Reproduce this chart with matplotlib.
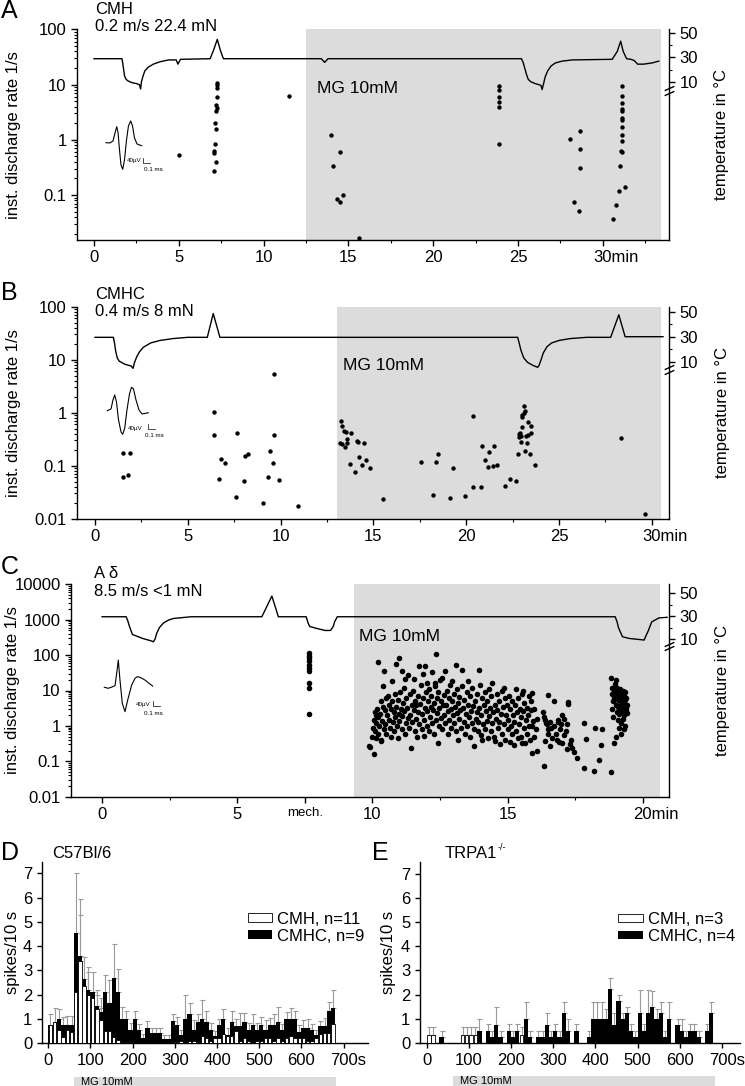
import numpy as np
import matplotlib
matplotlib.use("Agg")
import matplotlib.pyplot as plt
from matplotlib.patches import Patch, Rectangle
from matplotlib.ticker import (LogLocator, FixedLocator, FuncFormatter,
                               NullFormatter)
from matplotlib.transforms import ScaledTranslation, blended_transform_factory

plt.rcParams["font.family"] = ["Liberation Sans", "DejaVu Sans"]
plt.rcParams["font.size"] = 12
plt.rcParams["axes.linewidth"] = 1.0

W, H = 745, 1086
GREY = "#dcdcdc"

# ---------------- panel A (CMH) ----------------
A_rate_t = [5.0,
            7.25, 7.25, 7.25, 7.25, 7.2, 7.25, 7.2, 7.15, 7.2, 7.15, 7.1, 7.05, 7.2, 7.05,
            11.5,
            14.0, 14.5, 14.1, 14.3, 14.5, 14.7, 15.6,
            23.9, 23.9, 23.9, 23.9, 23.9, 23.9,
            28.07, 28.68, 28.68, 28.68, 28.3, 28.6,
            30.6, 30.8, 30.95, 31.3,
            31.1, 31.1, 31.1, 31.1, 31.1, 31.1, 31.1, 31.1, 31.1, 31.1, 31.05, 31.1, 31.0]
A_rate_v = [0.52,
            10.8, 9.8, 8.5, 5.9, 4.2, 3.8, 3.3, 2.0, 1.56, 0.84, 0.62, 0.57, 0.40, 0.27,
            6.3,
            1.23, 0.6, 0.34, 0.083, 0.075, 0.099, 0.0165,
            9.3, 8.0, 6.0, 4.8, 4.0, 0.85,
            1.05, 1.46, 0.69, 0.31, 0.074, 0.051,
            0.036, 0.066, 0.12, 0.14,
            9.5, 6.3, 4.6, 3.55, 3.35, 2.5, 2.28, 1.67, 1.21, 0.96, 0.63, 0.59, 0.34]
A_temp_t = [0, 1.65, 1.7, 1.75, 1.8, 1.87, 1.97, 2.1, 2.3, 2.5, 2.68, 2.75, 2.8, 2.9,
            3.0, 3.2, 3.5, 3.9, 4.4, 4.85, 4.95, 5.1, 6.85, 7.05, 7.27, 7.45, 7.63,
            13.4, 13.6, 13.8,
            25.2, 25.3, 25.4, 25.5, 25.6, 25.75, 26.0, 26.35, 26.42, 26.5, 26.6, 26.75,
            26.95, 27.2, 27.6, 28.2,
            30.55, 30.85, 31.05, 31.2, 31.4, 31.65, 31.85, 32.05, 32.4, 32.9, 33.3]
A_temp_c = [29, 29, 25, 20, 15, 12.5, 11, 10, 9, 8.5, 7.5, 4, 10, 15,
            19, 22, 24.5, 26.5, 28, 28, 24.5, 28.5, 29, 36, 45, 36, 29,
            29, 26, 29,
            29, 26, 21, 16, 12, 10, 8.5, 7, 3.5, 8, 14, 19,
            23, 25.5, 27, 28,
            28.5, 35, 43.5, 35, 29, 28.5, 27.5, 24.5, 24.5, 25.5, 27]

# ---------------- panel B (CMHC) ----------------
B_rate_t = [1.51, 1.8, 1.51, 1.87, 6.41, 6.39, 6.79, 6.99, 6.70, 7.67, 7.62, 8.01, 8.10,
            8.23, 9.05, 9.34, 9.43, 9.57, 9.63, 9.63, 9.93, 10.94,
            13.24, 13.32, 13.4, 13.52, 13.8, 13.6, 13.56, 13.18, 13.31, 13.47, 14.1,
            14.19, 14.47, 14.24, 13.76, 14.4, 14.62, 14.02, 14.8,
            15.52, 17.58, 18.2, 18.35, 18.46, 19.1, 19.3, 19.95, 20.35, 20.37, 20.8,
            20.87, 21.01, 21.24, 21.17, 21.43, 21.51, 21.67, 22.09, 22.38, 22.7,
            22.8, 22.82, 22.84, 22.88, 22.93, 22.95, 22.99, 22.99, 23.03, 23.1, 23.1,
            23.18, 23.2, 23.25, 23.18, 23.31, 23.35, 23.43, 23.5, 23.5, 23.69,
            28.32, 29.65]
B_rate_v = [0.061, 0.067, 0.177, 0.177, 1.03, 0.38, 0.136, 0.113, 0.056, 0.42, 0.0254,
            0.052, 0.155, 0.165, 0.0196, 0.0625, 0.188, 0.113, 0.38, 5.4, 0.053, 0.017,
            0.69, 0.57, 0.46, 0.43, 0.41, 0.32, 0.27, 0.27, 0.26, 0.23, 0.29,
            0.285, 0.265, 0.146, 0.109, 0.105, 0.127, 0.076, 0.09,
            0.024, 0.116, 0.0274, 0.115, 0.167, 0.025, 0.091, 0.027, 0.040, 0.88, 0.040,
            0.236, 0.128, 0.18, 0.094, 0.099, 0.235, 0.102, 0.041, 0.056, 0.052,
            0.169, 0.344, 0.40, 0.42, 0.277, 0.36, 0.54, 0.82, 0.905, 1.34, 0.97,
            1.06, 0.364, 0.272, 0.19, 0.66, 0.38, 0.165, 0.56, 0.41, 0.103,
            0.333, 0.0124]
B_temp_t = [0, 0.99, 1.05, 1.12, 1.2, 1.3, 1.6, 1.95, 2.05, 2.12, 2.25, 2.4, 2.6, 3.0,
            3.5, 4.2, 5.0,
            6.05, 6.37, 6.73, 22.77, 22.85, 22.95, 23.1, 23.3, 23.6, 23.85, 23.92, 24.02,
            24.15, 24.35, 24.6, 25.0, 25.6, 26.5, 27.78, 28.22, 28.56, 30.6]
B_temp_c = [29.5, 29.5, 25, 18, 13, 10.5, 8, 6.5, 4.7, 9, 14, 18, 21.5, 25,
            27, 28.5, 29.5,
            29.5, 48.5, 29.5, 29.5, 25, 19, 13, 9.5, 7, 5.5, 7, 11,
            17, 22, 25, 27, 28.5, 29.5, 29.5, 47.5, 30, 30]

# ---------------- panel C (A delta) ----------------
C_rate_pts = [
    # mechanical stimulation
    (7.67, 115), (7.67, 97), (7.67, 83), (7.67, 67), (7.67, 54), (7.67, 43),
    (7.67, 35), (7.67, 16.4), (7.67, 11.8), (7.67, 2.2),
    # MG response
    (9.88, 0.27), (9.92, 0.25), (10.05, 0.16), (10.0, 0.5), (10.02, 0.9), (10.05, 1.5),
    (10.08, 2.5), (10.1, 0.7), (10.12, 1.2), (10.15, 2.0), (10.15, 0.45), (10.18, 3.0),
    (10.2, 0.6), (10.22, 1.8), (10.22, 64), (10.25, 1.0), (10.28, 2.2), (10.3, 0.4),
    (10.3, 5), (10.32, 0.37), (10.35, 1.4), (10.38, 3.5), (10.4, 13), (10.42, 0.8),
    (10.44, 35), (10.45, 2.8), (10.48, 1.1), (10.5, 6), (10.52, 0.6), (10.55, 2.0),
    (10.57, 7), (10.6, 4), (10.62, 1.5), (10.65, 0.9), (10.68, 3), (10.7, 0.5),
    (10.72, 5), (10.74, 18), (10.75, 1.3), (10.78, 2.5), (10.8, 0.7), (10.82, 8),
    (10.85, 1.8), (10.88, 57), (10.88, 3.5), (10.9, 1.0), (10.93, 0.45), (10.95, 5.5),
    (10.97, 2.2), (11.0, 83), (11.0, 1.4), (11.02, 9), (11.05, 3), (11.08, 0.8),
    (11.09, 35), (11.1, 1.9), (11.12, 4.5), (11.15, 12), (11.18, 2.6), (11.2, 0.6),
    (11.21, 21), (11.23, 1.2), (11.25, 6), (11.28, 3.2), (11.3, 1.7), (11.33, 28),
    (11.35, 0.9), (11.38, 8), (11.4, 2.0), (11.43, 0.23), (11.45, 4), (11.48, 1.3),
    (11.5, 10), (11.52, 2.8), (11.54, 21), (11.56, 0.7), (11.58, 5), (11.6, 1.6),
    (11.63, 3.8), (11.65, 0.5), (11.68, 7), (11.7, 2.4), (11.72, 1.1), (11.74, 48),
    (11.76, 4.2), (11.8, 14), (11.82, 0.8), (11.85, 2.2), (11.86, 29), (11.88, 6),
    (11.9, 1.5), (11.92, 0.51), (11.95, 48), (11.96, 3.3), (11.98, 9), (12.0, 1.0),
    (12.01, 16), (12.03, 2.6), (12.05, 5), (12.08, 0.7), (12.1, 11), (12.12, 1.8),
    (12.15, 3.5), (12.18, 7), (12.2, 1.2), (12.22, 33), (12.24, 2.9), (12.26, 0.6),
    (12.28, 4.5), (12.3, 13), (12.32, 16), (12.34, 108), (12.35, 1.5), (12.38, 6),
    (12.4, 2.3), (12.42, 0.33), (12.44, 9), (12.46, 3.2), (12.48, 1.0), (12.5, 20),
    (12.52, 5), (12.55, 1.7), (12.57, 0.8), (12.59, 22), (12.6, 3.8), (12.63, 7.5),
    (12.65, 2.0), (12.68, 1.2), (12.7, 35), (12.72, 4), (12.75, 10), (12.78, 0.6),
    (12.8, 2.7), (12.82, 6), (12.85, 1.5), (12.88, 14), (12.9, 3), (12.92, 0.9),
    (12.94, 19), (12.96, 5), (12.98, 2.0), (13.0, 1.2), (13.02, 8), (13.05, 3.5),
    (13.08, 52), (13.1, 0.7), (13.12, 2.3), (13.14, 11), (13.16, 0.41), (13.18, 4.5),
    (13.2, 1.6), (13.22, 6.5), (13.25, 2.8), (13.28, 0.9), (13.3, 39), (13.32, 13),
    (13.35, 3.3), (13.38, 1.3), (13.4, 5.5), (13.42, 0.6), (13.45, 2.2), (13.48, 9),
    (13.5, 1.0), (13.52, 4), (13.55, 18), (13.58, 1.8), (13.6, 0.5), (13.62, 7),
    (13.65, 2.7), (13.68, 1.2), (13.7, 12), (13.72, 3.6), (13.75, 0.8), (13.77, 0.27),
    (13.8, 5), (13.82, 1.6), (13.85, 2.4), (13.88, 8), (13.9, 0.7), (13.92, 1.3),
    (13.95, 39), (13.96, 3.2), (13.98, 14), (14.0, 0.55), (14.02, 2.0), (14.05, 0.41),
    (14.07, 6), (14.1, 1.1), (14.12, 3.8), (14.15, 9), (14.18, 0.8), (14.2, 2.6),
    (14.22, 1.4), (14.25, 5), (14.28, 0.45), (14.3, 11), (14.32, 1.9), (14.35, 3.2),
    (14.38, 0.7), (14.4, 7), (14.42, 1.2), (14.44, 16), (14.46, 2.4), (14.5, 0.5),
    (14.52, 4), (14.54, 0.37), (14.56, 1.6), (14.6, 8), (14.62, 2.9), (14.65, 0.9),
    (14.68, 5), (14.7, 1.3), (14.72, 0.3), (14.75, 2.2), (14.78, 10), (14.8, 0.6),
    (14.82, 3.5), (14.85, 12), (14.88, 1.1), (14.9, 6), (14.92, 0.4), (14.95, 2.0),
    (14.98, 4), (15.0, 0.8), (15.03, 1.5), (15.05, 7), (15.08, 0.35), (15.1, 3),
    (15.12, 1.0), (15.15, 0.6), (15.18, 5), (15.2, 2.0), (15.22, 0.28), (15.25, 1.3),
    (15.28, 3.8), (15.3, 11), (15.32, 0.7), (15.35, 2.4), (15.38, 0.45), (15.4, 6),
    (15.42, 1.1), (15.45, 3), (15.48, 0.5), (15.5, 1.8), (15.52, 8), (15.55, 0.33),
    (15.56, 10), (15.58, 2.6), (15.6, 0.9), (15.62, 4.5), (15.65, 0.33), (15.68, 1.5),
    (15.7, 3.2), (15.72, 0.6), (15.75, 2.0), (15.78, 7), (15.8, 1.0), (15.82, 0.4),
    (15.85, 2.8), (15.88, 5), (15.9, 1.0), (15.9, 0.17), (15.92, 8.5), (15.94, 1.4),
    (15.96, 0.5), (15.98, 3), (16.05, 0.8), (16.08, 0.19), (16.1, 1.6), (16.3, 2.5),
    (16.33, 0.075), (16.35, 1.8), (16.39, 1.5), (16.39, 0.37), (16.42, 1.2),
    (16.45, 1.1), (16.48, 7.6), (16.5, 0.6), (16.51, 0.8), (16.55, 1.3), (16.57, 0.27),
    (16.6, 0.9), (16.65, 0.45), (16.7, 1.0), (16.73, 4.9), (16.78, 0.6), (16.82, 0.4),
    (16.85, 1.5), (16.88, 1.3), (16.9, 0.35), (16.94, 0.8), (16.97, 1.1), (17.0, 0.33),
    (17.03, 2.0), (17.07, 0.57), (17.1, 1.6), (17.15, 0.7), (17.19, 1.1), (17.19, 0.22),
    (17.23, 4.8), (17.25, 4.1), (17.3, 0.3), (17.36, 0.4), (17.4, 0.24), (17.45, 0.18),
    (17.56, 0.12), (17.83, 0.063), (17.84, 1.2), (17.91, 0.43), (18.2, 0.054),
    (18.24, 0.87), (18.39, 0.11), (18.46, 0.28), (18.49, 0.8), (18.83, 0.049),
    (18.92, 0.33), (19.0, 0.48),
    # cold response
    (18.83, 23), (18.85, 12), (18.87, 8), (18.9, 5), (18.88, 3), (18.9, 1.8),
    (18.92, 10), (18.95, 6), (18.97, 15), (19.0, 20), (19.0, 9), (19.02, 4),
    (19.03, 2.5), (19.05, 7), (19.05, 12), (19.07, 5.5), (19.08, 3.5), (19.1, 9),
    (19.1, 1.5), (19.12, 6), (19.13, 2.2), (19.15, 11), (19.15, 4), (19.17, 7.5),
    (19.18, 3), (19.2, 1.2), (19.2, 8), (19.22, 5), (19.23, 2.6), (19.25, 10),
    (19.25, 6.5), (19.27, 3.5), (19.28, 1.6), (19.3, 7), (19.3, 4.5), (19.32, 2),
    (19.33, 9), (19.35, 5.5), (19.35, 1), (19.37, 3), (19.38, 6), (19.4, 2.3),
    (19.4, 4), (19.12, 0.9), (19.2, 0.6), (19.3, 0.8),
]
C_temp_t = [0, 0.89, 0.95, 1.0, 1.12, 1.5, 1.8, 1.9, 1.96, 2.02, 2.12, 2.27, 2.45,
            2.64, 3.3, 5.91, 6.28, 6.52,
            7.55, 7.62, 7.68, 7.9, 8.25, 8.45, 8.55, 8.6, 8.7, 18.98, 19.05, 19.1, 19.25,
            19.5, 19.9, 20.05, 20.12, 20.2, 20.33, 20.6, 20.9]
C_temp_c = [29.5, 29.5, 26, 22, 14, 10.5, 8.5, 7.6, 10, 15, 20, 24, 26.5,
            28, 29.5, 29.5, 47.6, 29.5,
            29.5, 24, 21, 19.5, 17.5, 17.5, 21, 25, 29.5, 29.5, 25, 20, 12,
            10.5, 9.5, 9.1, 13, 17, 25, 28.5, 29]

# spike waveforms (ms, uV)
wave_a_t = [0, .057, .1, .129, .153, .171, .193, .214, .239, .264, .293, .321, .353,
            .379, .407, .443, .479, .51]
wave_a_v = [0, -2, 14, 78, 128, 86, -58, -178, -213, -138, 22, 134, 174, 134, 38,
            -10, -18, -24]
wave_b_t = [0, .053, .081, .106, .131, .160, .196, .220, .249, .281, .317, .346, .374,
            .410, .453, .496, .539, .586]
wave_b_v = [0, 14, 86, 126, 70, -74, -170, -189, -139, 6, 134, 187, 174, 86, 6, -26,
            -22, -16]
wave_c_t = [0, .057, .12, .153, .177, .2, .224, .257, .296, .334, .391, .439, .471,
            .51, .581, .653, .691]
wave_c_v = [0, -8, 5, 13, 112, 218, 58, -128, -195, -102, 18, 72, 85, 80, 58, 26, 10]

# ---------------- panels D / E (10 s bins) ----------------
BIN_START = list(range(0, 680, 10))
D_black = [0.75, 0.86, 1.0, 0.75, 0.75, 0.75, 4.55, 3.6, 2.65, 2.2,
           2.1, 1.55, 1.3, 2.1, 1.65, 2.67, 2.1, 1.0, 1.0, 0.55,
           1.0, 0.55, 0.2, 0.65, 0.42, 0.42, 0.42, 0.18, 0.18, 0.9,
           0.75, 0.35, 1.0, 1.2, 0.55, 0.86, 1.0, 0.86, 0.55, 0.3,
           0.75, 1.0, 0.35, 0.86, 0.7, 0.7, 0.86, 0.55, 0.75, 0.55,
           0.75, 0.55, 0.75, 0.75, 0.86, 0.55, 1.0, 1.0, 1.0, 0.45,
           0.65, 0.65, 0.55, 0.35, 0.7, 0.7, 1.35, 1.45]
D_black_err = [0.45, 0.6, 0.4, 0.35, 0.37, 0.37, 2.45, 2.35, 0.9, 0.95,
               0.85, 0.65, 0.55, 0.7, 0.95, 1.4, 0.95, 0.5, 0.35, 0.3,
               0.35, 0.25, 0.2, 0.25, 0.2, 0.2, 0.2, 0.15, 0.15, 0.3,
               0.35, 0.2, 1.0, 0.45, 0.4, 0.35, 0.8, 0.45, 0.3, 0.2,
               0.25, 0.4, 0.3, 0.45, 0.3, 0.55, 0.4, 0.3, 0.45, 0.3,
               0.35, 0.4, 0.3, 0.45, 0.65, 0.25, 0.3, 0.45, 0.35, 0.3,
               0.3, 0.35, 0.25, 0.2, 0.2, 0.35, 0.35, 0.75]
D_white = [0.75, 0.86, 0.55, 0.27, 0.55, 0.48, 2.1, 3.4, 2.35, 2.0,
           1.85, 1.4, 0.96, 0.5, 0.5, 0.27, 0.14, 0.07, 0.07, 0.05,
           0, 0, 0, 0, 0, 0, 0, 0, 0, 0.07,
           0.07, 0.1, 0, 0.1, 0.1, 0.07, 0.3, 0.2, 0.1, 0.2,
           0.2, 0.4, 0.3, 0.3, 0.5, 0.1, 0.2, 0.1, 0, 0.1,
           0.1, 0.2, 0.2, 0.1, 0.2, 0.1, 0.2, 0.3, 0.2, 0.2,
           0.2, 0.1, 0.1, 0.2, 0.4, 0.42, 0.42, 0.8]
D_white_err = [0, 0, 0, 0, 0, 0, 0, 1.9, 0, 0.95,
               0, 0.6, 0.5, 0, 0, 0, 0, 0, 0, 0,
               0, 0, 0, 0, 0, 0, 0, 0, 0, 0,
               0, 0, 0, 0, 0, 0, 0, 0, 0, 0,
               0, 0, 0, 0, 0, 0, 0, 0, 0, 0,
               0, 0, 0, 0, 0, 0, 0, 0, 0, 0,
               0, 0, 0, 0, 0, 0, 0, 0]
E_black = [0, 0, 0, 0.25, 0, 0, 0, 0, 0, 0,
           0, 0, 0.5, 0, 0.5, 0.25, 0.75, 0.25, 0, 0.5,
           0.25, 0.5, 0, 1.0, 0.25, 0, 0.25, 0.25, 0.75, 0.25,
           0.5, 0.25, 1.25, 0.5, 0, 0.5, 0, 0, 0.25, 1.0,
           1.0, 1.0, 1.0, 2.25, 0.75, 1.75, 1.0, 1.25, 0.5, 0.25,
           1.25, 0.5, 1.25, 1.5, 1.0, 1.25, 0.25, 1.0, 0, 0.75,
           0.5, 0.25, 0.5, 0.5, 0.25, 0, 0.5, 1.25]
E_black_err = [0, 0, 0, 0.25, 0, 0, 0, 0, 0, 0,
               0, 0, 0.5, 0, 0.3, 0.25, 0.75, 0.25, 0, 0.3,
               0.25, 0.3, 0, 0.7, 0.25, 0, 0.25, 0.25, 0.5, 0.25,
               0.3, 0.25, 0.45, 0.5, 0, 0.3, 0, 0, 0.25, 0.7,
               0.7, 0.7, 0.4, 0.45, 0.5, 0.25, 0.25, 0.25, 0.3, 0.25,
               0.95, 0.3, 0.95, 0.65, 0.4, 0.45, 0.25, 0.7, 0, 0.25,
               0.5, 0.25, 0.3, 0.3, 0.25, 0, 0.3, 0.45]
E_white = [0.33, 0.33, 0, 0, 0, 0, 0, 0, 0.33, 0.33,
           0.33, 0.33, 0, 0, 0, 0, 0, 0, 0, 0,
           0, 0, 0.33, 0, 0, 0, 0, 0, 0, 0,
           0, 0, 0, 0, 0, 0, 0, 0, 0, 0,
           0, 0, 0, 0, 0, 0, 0, 0, 0, 0,
           0, 0, 0, 0, 0, 0, 0, 0, 0, 0,
           0, 0, 0, 0, 0, 0, 0, 0]
E_white_err = [0.32, 0.32, 0, 0, 0, 0, 0, 0, 0.32, 0.32,
               0.32, 0.32, 0, 0, 0, 0, 0, 0, 0, 0,
               0, 0, 0.32, 0, 0, 0, 0, 0, 0, 0,
               0, 0, 0, 0, 0, 0, 0, 0, 0, 0,
               0, 0, 0, 0, 0, 0, 0, 0, 0, 0,
               0, 0, 0, 0, 0, 0, 0, 0, 0, 0,
               0, 0, 0, 0, 0, 0, 0, 0]
MG_START, MG_END = 62, 683


fig = plt.figure(figsize=(W / 100, H / 100), dpi=100)


def px_axes(left, top, right, bottom):
    return fig.add_axes([left / W, 1 - bottom / H, (right - left) / W, (bottom - top) / H])


def shift_last_label(ax, dx):
    lab = ax.get_xticklabels()[-1]
    lab.set_ha("left")
    lab.set_transform(lab.get_transform() + ScaledTranslation(dx, 0, fig.dpi_scale_trans))


def trace_panel(box, xlim, ylim, tlim, shade, rate_t, rate_v, temp_t, temp_c,
                breaks, mg_pos, yticks, xticks, xlabels, xminor, ylab_x, dot=10):
    ax = px_axes(*box)
    ax.axvspan(*shade, color=GREY, lw=0, zorder=0)
    ax.scatter(rate_t, rate_v, s=dot, c="k", lw=0, zorder=3)
    ax.set_yscale("log")
    ax.set_xlim(xlim)
    ax.set_ylim(ylim)
    ax.set_yticks(yticks)
    ax.yaxis.set_major_formatter(FuncFormatter(lambda v, p: f"{v:g}"))
    ax.yaxis.set_minor_locator(LogLocator(subs=np.arange(2, 10), numticks=30))
    ax.yaxis.set_minor_formatter(NullFormatter())
    ax.xaxis.set_major_locator(FixedLocator(xticks))
    ax.set_xticklabels(xlabels)
    ax.xaxis.set_minor_locator(FixedLocator(xminor))
    ax.spines["top"].set_visible(False)
    ax.spines["right"].set_visible(False)
    ax.tick_params(which="major", length=4, width=1, labelsize=12)
    ax.tick_params(which="minor", length=2, width=0.8)
    ax.set_ylabel("inst. discharge rate 1/s", fontsize=12)
    ax.yaxis.set_label_coords(ylab_x, 0.5)
    ax.yaxis.label.set_va("center")
    ax.text(mg_pos[0], mg_pos[1], "MG 10mM", fontsize=12.5, va="center", zorder=4)

    ax2 = ax.twinx()
    ax2.plot(temp_t, temp_c, color="k", lw=1.0)
    ax2.set_ylim(tlim)
    ax2.set_yticks([10, 30, 50])
    ax2.set_yticks([20, 40], minor=True)
    for s in ["top", "left", "bottom"]:
        ax2.spines[s].set_visible(False)
    ax2.tick_params(which="major", length=4, width=1, labelsize=12)
    ax2.tick_params(which="minor", length=2, width=0.8)
    ax2.set_ylabel("temperature in °C", fontsize=12)
    ax2.yaxis.set_label_coords(1.0895, 0.5)
    ax2.yaxis.label.set_va("center")
    ax2.plot([1, 1], breaks, transform=ax2.get_yaxis_transform(), ls="none",
             marker=[(-1, -0.45), (1, 0.45)], ms=7, color="k", mec="k", mew=1,
             clip_on=False)
    return ax, ax2


def wave_inset(x0, y0, wt, wv, bar_t, bar_top, bar_bot, uv_pos, ms_pos):
    # 70 px per ms, 8 uV per px
    ax = fig.add_axes([x0 / W, 1 - (y0 + 31.25) / H, 70 / W, 62.5 / H])
    ax.set_xlim(0, 1)
    ax.set_ylim(-250, 250)
    ax.axis("off")
    ax.plot(wt, wv, color="k", lw=0.8, clip_on=False)
    ax.plot([bar_t, bar_t, bar_t + 0.1], [bar_top, bar_bot, bar_bot], color="k",
            lw=0.5, clip_on=False)
    ax.text(uv_pos[0], uv_pos[1], "40µV", fontsize=4.5, ha="right", va="center")
    ax.text(ms_pos[0], ms_pos[1], "0.1 ms", fontsize=4.5, ha="left", va="center")


# panel A
axA, _ = trace_panel((77, 29.3, 669, 240), (-1.0, 33.9), (0.0153, 100), (-120.8, 53.3),
                     (12.5, 33.4), A_rate_t, A_rate_v, A_temp_t, A_temp_c, [1, 5],
                     (13.15, 8.5), [0.1, 1, 10, 100], [0, 5, 10, 15, 20, 25, 30],
                     ["0", "5", "10", "15", "20", "25", "30min"],
                     [2.5, 7.5, 12.5, 17.5, 22.5, 27.5, 32.5], -0.108)
shift_last_label(axA, -0.093)

# panel B
axB, _ = trace_panel((77, 306.7, 669.3, 518.7), (-0.97, 30.94), (0.01, 100), (-115.6, 54),
                     (13.02, 30.5), B_rate_t, B_rate_v, B_temp_t, B_temp_c, [2, 5.5],
                     (13.35, 7.9), [0.01, 0.1, 1, 10, 100], [0, 5, 10, 15, 20, 25, 30],
                     ["0", "5", "10", "15", "20", "25", "30min"],
                     [2.5, 7.5, 12.5, 17.5, 22.5, 27.5], -0.108)
shift_last_label(axB, -0.093)

# panel C
c_t = [p[0] for p in C_rate_pts]
c_v = [p[1] for p in C_rate_pts]
axC, _ = trace_panel((71, 584.3, 669, 796.7), (-1.15, 20.97), (0.01, 10000), (-128, 57.9),
                     (9.32, 20.63), c_t, c_v, C_temp_t, C_temp_c, [1.8, 5.6],
                     (9.52, 340), [0.01, 0.1, 1, 10, 100, 1000, 10000],
                     [0, 5, 7.5, 10, 15, 20], ["0", "5", "mech.", "10", "15", "20min"],
                     [2.5, 12.5, 17.5], -0.097, dot=16)
axC.get_xticklabels()[2].set_fontsize(9.5)
shift_last_label(axC, -0.093)

wave_inset(106, 142.7, wave_a_t, wave_a_v, 0.53, -125, -165, (0.51, -144), (0.54, -213))
wave_inset(107.3, 410.7, wave_b_t, wave_b_v, 0.577, -106, -146, (0.506, -141), (0.539, -200))
wave_inset(104.3, 687.3, wave_c_t, wave_c_v, 0.691, -110, -150, (0.663, -134), (0.567, -213))

# annotations
fig.text(1 / W, 1 - 11 / H, "A", fontsize=18, va="center")
fig.text(95 / W, 1 - 10 / H, "CMH", fontsize=12, va="center")
fig.text(95 / W, 1 - 26.7 / H, "0.2 m/s 22.4 mN", fontsize=12, va="center")
fig.text(1 / W, 1 - 292.5 / H, "B", fontsize=18, va="center")
fig.text(95 / W, 1 - 295 / H, "CMHC", fontsize=12, va="center")
fig.text(95 / W, 1 - 312 / H, "0.4 m/s 8 mN", fontsize=12, va="center")
fig.text(1 / W, 1 - 566.5 / H, "C", fontsize=18, va="center")
fig.text(94 / W, 1 - 573 / H, "A δ", fontsize=12, va="center")
fig.text(94 / W, 1 - 592 / H, "8.5 m/s <1 mN", fontsize=12, va="center")


def hist_panel(box, xlim, black, black_err, white, white_err, labels, leg_x, ylab_x):
    ax = px_axes(*box)
    x = np.array(BIN_START)
    black = np.array(black)
    white = np.array(white)
    be = np.array(black_err)
    we = np.array(white_err)
    ax.bar(x, black, width=10, align="edge", color="k", lw=0, zorder=2)
    m = white > 0
    ax.bar(x[m] + 1, white[m], width=8, align="edge", facecolor="white",
           edgecolor="k", lw=0.6, zorder=3)
    mb = be > 0
    ax.errorbar(x[mb] + 5, black[mb], yerr=[np.zeros(mb.sum()), be[mb]], fmt="none",
                ecolor="#9a9a9a", elinewidth=0.8, capsize=1.8, capthick=0.8, zorder=1)
    mw = we > 0
    ax.errorbar(x[mw] + 5, white[mw], yerr=[np.zeros(mw.sum()), we[mw]], fmt="none",
                ecolor="#9a9a9a", elinewidth=0.8, capsize=1.8, capthick=0.8, zorder=1)
    ax.set_xlim(xlim)
    ax.set_ylim(0, 7.48)
    ax.set_yticks(range(0, 8))
    ax.set_xticks(range(0, 701, 100))
    ax.set_xticklabels(["0", "100", "200", "300", "400", "500", "600", "700s"])
    ax.spines["top"].set_visible(False)
    ax.spines["right"].set_visible(False)
    ax.tick_params(which="major", length=3.5, width=1, labelsize=12)
    ax.set_ylabel("spikes/10 s", fontsize=12)
    ax.yaxis.set_label_coords(ylab_x, 0.5)
    ax.yaxis.label.set_va("center")
    handles = [Patch(facecolor="white", edgecolor="k", lw=0.6), Patch(facecolor="k")]
    ax.legend(handles, labels, loc="upper left", bbox_to_anchor=(leg_x, 0.725),
              frameon=False, fontsize=12, handlelength=1.45, handleheight=0.42,
              handletextpad=0.3, labelspacing=0.12, borderpad=0, borderaxespad=0)
    tr = blended_transform_factory(ax.transData, ax.transAxes)
    ax.add_patch(Rectangle((MG_START, -0.245), MG_END - MG_START, 0.06, transform=tr,
                           color=GREY, lw=0, clip_on=False))
    ax.text(78, -0.212, "MG 10mM", transform=tr, fontsize=8, va="center")
    shift_last_label(ax, -0.13)
    return ax


axD = hist_panel((42, 861.7, 368, 1043.3), (-15, 758), D_black, D_black_err, D_white,
                 D_white_err, ["CMH, n=11", "CMHC, n=9"], 0.632, -0.092)
axE = hist_panel((420, 862, 740, 1043), (-16, 743), E_black, E_black_err, E_white,
                 E_white_err, ["CMH, n=3", "CMHC, n=4"], 0.62, -0.1)

fig.text(1 / W, 1 - 853.5 / H, "D", fontsize=18, va="center")
fig.text(51.7 / W, 1 - 854 / H, "C57Bl/6", fontsize=12, va="center")
fig.text(372 / W, 1 - 853.5 / H, "E", fontsize=18, va="center")
fig.text(445 / W, 1 - 854 / H, "TRPA1", fontsize=12, va="center")
fig.text(498 / W, 1 - 847 / H, "-/-", fontsize=6.5, va="center")

fig.savefig("out.png", dpi=100)
